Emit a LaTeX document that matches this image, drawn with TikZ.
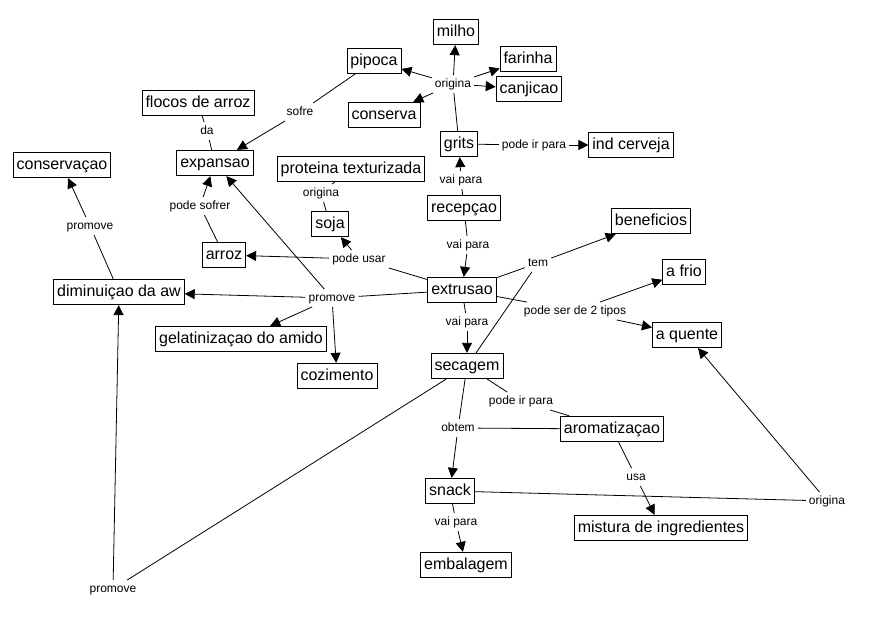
\documentclass[tikz,border=0pt]{standalone}
\usepackage{fontspec}
\setmainfont{Liberation Sans}
\usetikzlibrary{arrows.meta}
\tikzset{
  concept/.style={draw, line width=0.8pt, font=\fontsize{16}{18}\selectfont, inner xsep=3.5pt, inner ysep=5pt, text height=12pt, text depth=3.5pt},
  phrase/.style={font=\fontsize{12}{14}\selectfont, inner sep=3pt, text height=9pt, text depth=2.5pt},
  link/.style={line width=0.8pt},
  arr/.style={link, -{Triangle[length=10pt,width=10pt]}},
}
\begin{document}
\begin{tikzpicture}[x=1pt,y=-1pt]
\fill[white] (0,0) rectangle (871,621);
\useasboundingbox (0,0) rectangle (871,621);
% concepts
\node[concept] (milho) at (456,32) {milho};
\node[concept] (pipoca) at (374,61) {pipoca};
\node[concept] (farinha) at (528,59) {farinha};
\node[concept] (canjicao) at (529,89) {canjicao};
\node[concept] (conserva) at (384,115) {conserva};
\node[concept] (grits) at (459,144) {grits};
\node[concept] (indcerveja) at (631,145) {ind cerveja};
\node[concept] (flocos) at (198,103) {flocos de arroz};
\node[concept] (expansao) at (215,163) {expansao};
\node[concept] (conservacao) at (62,165) {conservaçao};
\node[concept] (proteina) at (351,169) {proteina texturizada};
\node[concept] (soja) at (330,224) {soja};
\node[concept] (arroz) at (224,255) {arroz};
\node[concept] (recepcao) at (464,208) {recepçao};
\node[concept] (extrusao) at (462,290) {extrusao};
\node[concept] (diminuicao) at (119,292) {diminuiçao da aw};
\node[concept] (gelatinizacao) at (241,339) {gelatinizaçao do amido};
\node[concept] (cozimento) at (337,376) {cozimento};
\node[concept] (secagem) at (467,366) {secagem};
\node[concept] (beneficios) at (651,221) {beneficios};
\node[concept] (afrio) at (684,272) {a frio};
\node[concept] (aquente) at (687,335) {a quente};
\node[concept] (aromatizacao) at (612,429) {aromatizaçao};
\node[concept] (snack) at (450,491) {snack};
\node[concept] (embalagem) at (466,565) {embalagem};
\node[concept] (mistura) at (661,528) {mistura de ingredientes};
% linking phrases
\node[phrase] (lOrigA) at (453,84) {origina};
\node[phrase] (lIrGrits) at (534,145) {pode ir para};
\node[phrase] (lSofre) at (300,112) {sofre};
\node[phrase] (lDa) at (207,131) {da};
\node[phrase] (lPodeSofrer) at (200,206) {pode sofrer};
\node[phrase] (lPromCons) at (90,226) {promove};
\node[phrase] (lOrigB) at (321,193) {origina};
\node[phrase] (lVaiGrits) at (461,180) {vai para};
\node[phrase] (lVaiExtr) at (468,245) {vai para};
\node[phrase] (lPodeUsar) at (359,259) {pode usar};
\node[phrase] (lPromove) at (332,298) {promove};
\node[phrase] (lTem) at (538,263) {tem};
\node[phrase] (lTipos) at (575,311) {pode ser de 2 tipos};
\node[phrase] (lVaiSec) at (467,322) {vai para};
\node[phrase] (lIrArom) at (521,401) {pode ir para};
\node[phrase] (lObtem) at (458,428) {obtem};
\node[phrase] (lUsa) at (636,477) {usa};
\node[phrase] (lOrigC) at (827,501) {origina};
\node[phrase] (lVaiEmb) at (456,522) {vai para};
\node[phrase] (lPromBottom) at (113,589) {promove};
% connectors
\draw[link] (grits) -- (lOrigA);
\draw[arr] (lOrigA) -- (milho);
\draw[arr] (lOrigA) -- (pipoca);
\draw[arr] (lOrigA) -- (farinha);
\draw[arr] (lOrigA) -- (canjicao);
\draw[arr] (lOrigA) -- (conserva);
\draw[link] (grits) -- (lIrGrits);
\draw[arr] (lIrGrits) -- (indcerveja);
\draw[link] (pipoca) -- (lSofre);
\draw[arr] (lSofre) -- (expansao);
\draw[link] (flocos) -- (lDa);
\draw[link] (lDa) -- (expansao);
\draw[link] (arroz) -- (lPodeSofrer);
\draw[arr] (lPodeSofrer) -- (expansao);
\draw[link] (diminuicao) -- (lPromCons);
\draw[arr] (lPromCons) -- (conservacao);
\draw[link] (proteina) -- (lOrigB);
\draw[link] (lOrigB) -- (soja);
\draw[link] (recepcao) -- (lVaiGrits);
\draw[arr] (lVaiGrits) -- (grits);
\draw[link] (recepcao) -- (lVaiExtr);
\draw[arr] (lVaiExtr) -- (extrusao);
\draw[link] (extrusao) -- (lPodeUsar);
\draw[arr] (lPodeUsar) -- (arroz);
\draw[arr] (lPodeUsar) -- (soja);
\draw[link] (extrusao) -- (lPromove);
\draw[arr] (lPromove) -- (expansao);
\draw[arr] (lPromove) -- (diminuicao);
\draw[arr] (lPromove) -- (gelatinizacao);
\draw[arr] (lPromove) -- (cozimento);
\draw[link] (extrusao) -- (lTem);
\draw[link] (secagem) -- (lTem);
\draw[arr] (lTem) -- (beneficios);
\draw[link] (extrusao) -- (lTipos);
\draw[arr] (lTipos) -- (afrio);
\draw[arr] (lTipos) -- (aquente);
\draw[link] (extrusao) -- (lVaiSec);
\draw[arr] (lVaiSec) -- (secagem);
\draw[link] (secagem) -- (lIrArom);
\draw[link] (lIrArom) -- (aromatizacao);
\draw[link] (secagem) -- (lObtem);
\draw[link] (aromatizacao) -- (lObtem);
\draw[arr] (lObtem) -- (snack);
\draw[link] (aromatizacao) -- (lUsa);
\draw[arr] (lUsa) -- (mistura);
\draw[link] (snack) -- (lOrigC);
\draw[arr] (lOrigC) -- (aquente);
\draw[link] (snack) -- (lVaiEmb);
\draw[arr] (lVaiEmb) -- (embalagem);
\draw[link] (secagem) -- (lPromBottom);
\draw[arr] (lPromBottom) -- (diminuicao);
\end{tikzpicture}
\end{document}
